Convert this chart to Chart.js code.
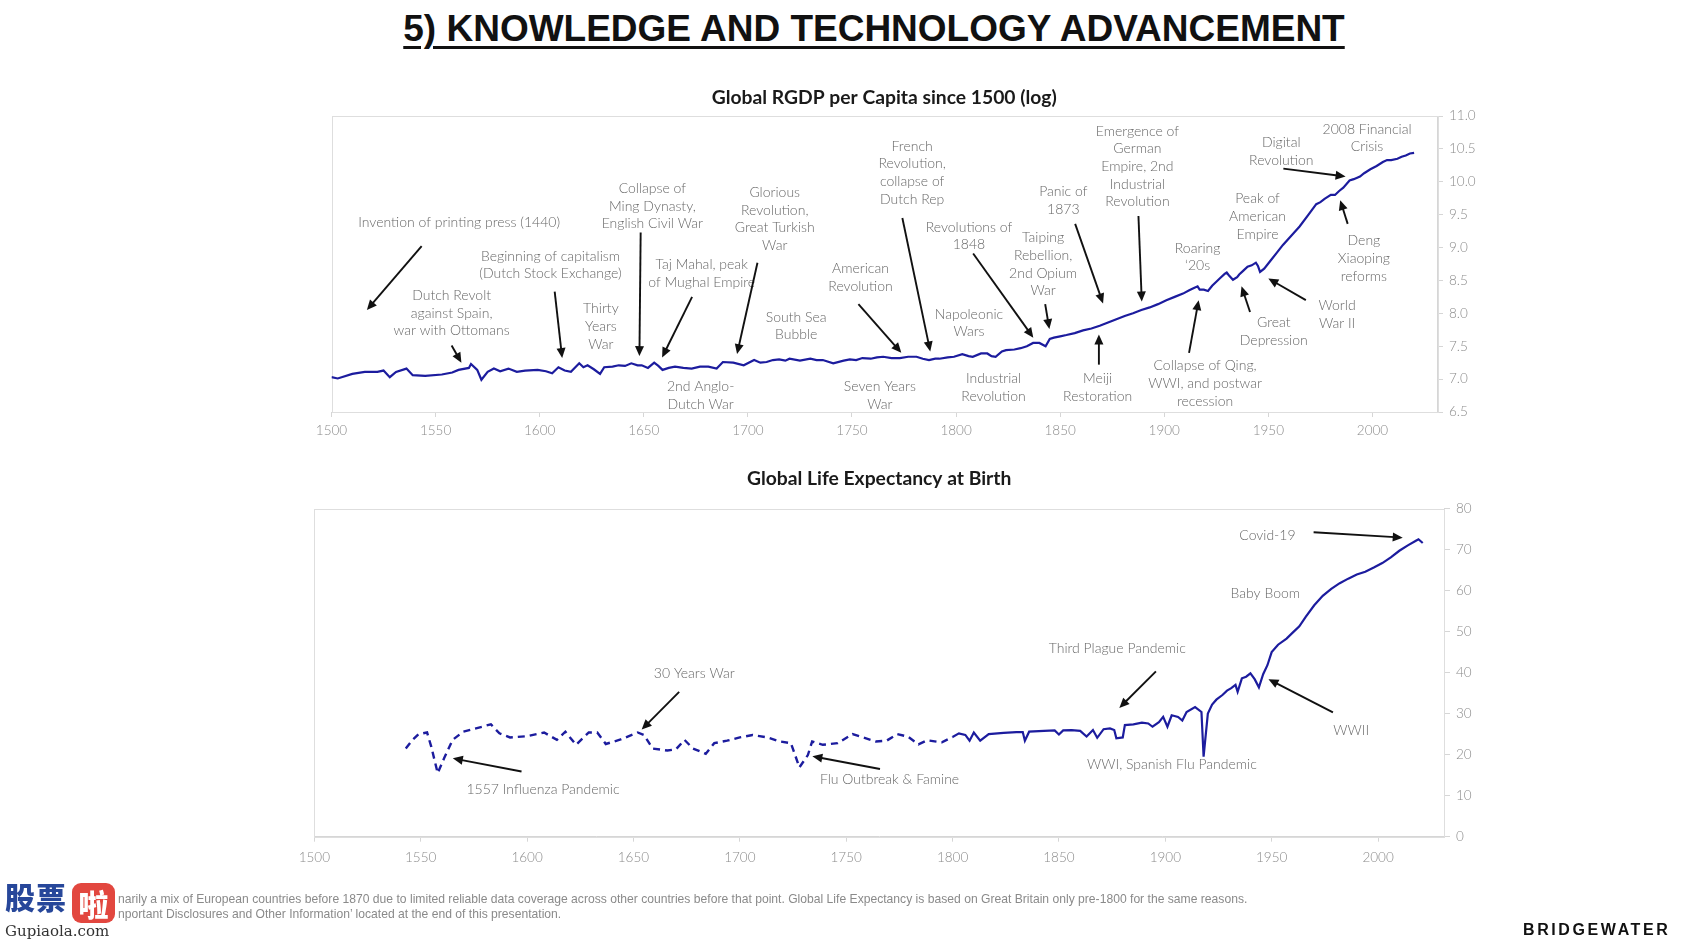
<!DOCTYPE html>
<html><head><meta charset="utf-8">
<script src="https://cdn.jsdelivr.net/npm/chart.js@4.4.1/dist/chart.umd.min.js"></script>
<style>
html,body{margin:0;padding:0;background:#fff;width:1682px;height:942px;overflow:hidden;position:relative;font-family:Lato,"Open Sans",sans-serif;}
#mainTitle{position:absolute;left:0;top:8px;width:1748px;text-align:center;font-family:"Liberation Sans",Arial,sans-serif;font-weight:bold;font-size:37px;color:#111;text-decoration:underline;text-decoration-thickness:3px;text-underline-offset:5px;white-space:nowrap;}
canvas{position:absolute;left:0;}
#c1{top:0;}
#c2{top:450px;}
.foot{position:absolute;left:118px;font-family:"Liberation Sans Narrow","Arial Narrow","Liberation Sans",sans-serif;font-size:13px;color:#8a8a8a;white-space:nowrap;transform:scaleX(0.933);transform-origin:0 0;}
#wm1{position:absolute;left:5px;top:881px;font-family:"Noto Sans CJK SC",sans-serif;font-weight:900;font-size:30px;color:#27479a;letter-spacing:1px;line-height:1;}
#wm2{position:absolute;left:72px;top:883px;width:43px;height:40px;border-radius:9px;background:#e2473f;color:#fff;font-family:"Noto Sans CJK SC",sans-serif;font-weight:900;font-size:30px;line-height:40px;text-align:center;}
#wm3{position:absolute;left:5px;top:922px;font-family:"DejaVu Serif","Liberation Serif",serif;font-size:15px;color:#333;}
#bw{position:absolute;left:1523px;top:921px;font-family:"Liberation Sans",Arial,sans-serif;font-weight:bold;font-size:16px;letter-spacing:2.6px;color:#111;}
</style></head>
<body>
<div id="mainTitle">5) KNOWLEDGE AND TECHNOLOGY ADVANCEMENT</div>
<canvas id="c1" width="1682" height="450"></canvas>
<canvas id="c2" width="1682" height="492"></canvas>
<div class="foot" style="top:891px">narily a mix of European countries before 1870 due to limited reliable data coverage across other countries before that point. Global Life Expectancy is based on Great Britain only pre-1800 for the same reasons.</div>
<div class="foot" style="top:906px">nportant Disclosures and Other Information’ located at the end of this presentation.</div>
<div id="wm1">股票</div>
<div id="wm2">啦</div>
<div id="wm3">Gupiaola.com</div>
<div id="bw">BRIDGEWATER</div>
<script>
// ---------- DATA ----------
const gdpYears = [1500,1503,1510,1516,1522,1525,1528,1531,1536,1539,
1545,1553,1558,1561,1566,1567,1570,1572,1575,1578,
1581,1585,1589,1593,1599,1603,1606,1609,1612,1615,
1619,1621,1623,1626,1629,1631,1635,1638,1641,1644,
1647,1649,1652,1655,1657,1659,1662,1665,1669,1673,
1677,1681,1685,1688,1693,1698,1703,1706,1709,1712,
1715,1718,1720,1725,1730,1733,1736,1741,1746,1749,
1752,1755,1759,1762,1765,1769,1773,1777,1781,1784,
1787,1790,1792,1796,1799,1803,1806,1808,1812,1815,
1817,1819,1822,1824,1828,1831,1834,1837,1840,1843,
1845,1847,1850,1853,1857,1861,1865,1869,1873,1877,
1881,1885,1889,1893,1897,1901,1905,1909,1912,1914,
1916,1917,1919,1921,1923,1925,1927,1929,1930,1931,
1933,1935,1936,1938,1940,1942,1944,1945,1946,1948,
1951,1954,1957,1961,1965,1969,1973,1975,1977,1980,
1982,1984,1986,1989,1991,1994,1996,1999,2002,2005,
2007,2009,2012,2014,2016,2018,2020];
const gdpLog = [7.03,7.01,7.08,7.11,7.11,7.13,7.03,7.11,7.16,7.06,
7.05,7.07,7.10,7.14,7.17,7.23,7.14,6.99,7.11,7.16,
7.12,7.16,7.11,7.13,7.14,7.12,7.09,7.18,7.13,7.11,
7.24,7.18,7.21,7.15,7.08,7.18,7.19,7.21,7.20,7.24,
7.21,7.21,7.17,7.25,7.20,7.14,7.17,7.19,7.17,7.16,
7.19,7.19,7.16,7.26,7.25,7.21,7.29,7.25,7.26,7.29,
7.30,7.28,7.31,7.28,7.31,7.29,7.29,7.24,7.28,7.30,
7.29,7.32,7.31,7.33,7.34,7.32,7.32,7.34,7.34,7.31,
7.29,7.31,7.31,7.33,7.34,7.38,7.35,7.34,7.39,7.39,
7.35,7.34,7.42,7.44,7.45,7.47,7.50,7.55,7.55,7.50,
7.61,7.63,7.65,7.67,7.70,7.74,7.77,7.81,7.86,7.91,
7.96,8.00,8.05,8.09,8.14,8.20,8.25,8.30,8.35,8.38,
8.41,8.36,8.36,8.34,8.42,8.48,8.54,8.60,8.62,8.58,
8.51,8.55,8.59,8.65,8.71,8.73,8.77,8.72,8.63,8.68,
8.80,8.92,9.04,9.18,9.32,9.49,9.66,9.69,9.74,9.80,
9.80,9.86,9.91,10.02,10.04,10.08,10.13,10.19,10.24,10.30,
10.33,10.33,10.35,10.38,10.40,10.43,10.44];

// Life expectancy, Great Britain only (dashed) pre-1800
const leEarlyYears = [1543,1546,1549,1553,1555,1558,1561,1565,1570,1576,1583,1587,1592,1600,
1608,1614,1618,1623,1629,1633,1637,1644,1652,1655,1659,1666,1670,1674,
1678,1684,1688,1694,1700,1706,1713,1719,1724,1726,1728,1732,1734,1739,
1746,1753,1758,1764,1769,1774,1779,1784,1788,1795,1800];
const leEarlyVals = [21.5,23.5,25.0,25.4,21.9,15.5,19.1,23.6,25.6,26.4,27.4,25.2,24.2,24.5,
25.4,23.6,25.6,22.4,25.4,25.4,22.6,23.7,25.4,24.8,21.5,21.0,21.3,23.6,
21.5,20.2,22.8,23.4,24.2,24.8,24.2,23.2,22.8,19.9,16.9,19.9,23.2,22.4,
22.8,25.0,24.2,23.2,23.4,25.0,24.4,22.5,23.5,23.0,24.3];
// Global life expectancy (solid) from 1800
const leYears = [1800,1803,1806,1808,1810,1813,1817,1824,1830,1833,
1834,1836,1843,1848,1850,1852,1856,1860,1863,1866,
1868,1871,1874,1876,1877,1880,1881,1885,1889,1892,
1894,1897,1899,1901,1903,1906,1908,1910,1914,1917,
1918,1920,1922,1924,1927,1929,1931,1933,1934,1936,
1938,1940,1942,1944,1946,1948,1950,1953,1957,1960,
1963,1966,1970,1974,1978,1982,1986,1990,1994,1998,
2002,2006,2010,2014,2018,2019,2021];
const leVals = [24.3,25.2,24.8,23.4,25.4,23.4,25.0,25.3,25.5,25.5,
23.4,25.6,25.8,25.9,24.9,25.9,26.0,25.8,24.4,26.0,
24.1,26.2,26.4,26.0,24.0,24.2,27.2,27.4,27.8,27.6,
26.8,27.9,29.2,26.8,29.6,29.2,28.3,30.4,31.6,30.4,
19.5,30.0,32.2,33.4,34.6,35.6,36.2,37.0,35.3,38.6,
39.0,39.8,38.4,36.4,39.6,41.8,45.0,46.8,48.3,49.8,
51.3,53.6,56.4,58.7,60.4,61.8,62.9,63.9,64.6,65.6,
66.7,68.1,69.7,71.0,72.2,72.5,71.6];

const xTickYears = [1500,1550,1600,1650,1700,1750,1800,1850,1900,1950,2000];
const gdpTicks = [6.5,7.0,7.5,8.0,8.5,9.0,9.5,10.0,10.5,11.0];
const leTicks = [0,10,20,30,40,50,60,70,80];

// annotations (text anchor and arrows in data units)
const gdpNotes = [
 {t:["Invention of printing press (1440)"], x:1561.3, y:9.38, a:[1543.3,9.02,1517.0,8.05]},
 {t:["Beginning of capitalism","(Dutch Stock Exchange)"], x:1605.2, y:8.87, a:[1607.2,8.33,1610.8,7.32]},
 {t:["Dutch Revolt","against Spain,","war with Ottomans"], x:1557.7, y:8.27, a:[1557.7,7.51,1562.4,7.25]},
 {t:["Thirty","Years","War"], x:1629.4, y:8.07},
 {t:["Collapse of","Ming Dynasty,","English Civil War"], x:1654.1, y:9.90, a:[1648.5,9.23,1647.9,7.35]},
 {t:["Taj Mahal, peak","of Mughal Empire"], x:1677.8, y:8.74, a:[1673.2,8.25,1658.8,7.33]},
 {t:["2nd Anglo-","Dutch War"], x:1677.3, y:6.89},
 {t:["Glorious","Revolution,","Great Turkish","War"], x:1712.9, y:9.84, a:[1704.6,8.77,1694.8,7.38]},
 {t:["South Sea","Bubble"], x:1723.2, y:7.94},
 {t:["American","Revolution"], x:1754.1, y:8.68, a:[1753.1,8.14,1773.7,7.40]},
 {t:["Seven Years","War"], x:1763.4, y:6.89},
 {t:["French","Revolution,","collapse of","Dutch Rep"], x:1778.9, y:10.54, a:[1774.2,9.45,1787.6,7.42]},
 {t:["Napoleonic","Wars"], x:1806.2, y:7.99},
 {t:["Industrial","Revolution"], x:1818.0, y:7.01},
 {t:["Revolutions of","1848"], x:1806.2, y:9.31, a:[1808.2,8.91,1837.1,7.63]},
 {t:["Taiping","Rebellion,","2nd Opium","War"], x:1841.8, y:9.15, a:[1842.8,8.14,1844.8,7.76]},
 {t:["Panic of","1873"], x:1851.5, y:9.85, a:[1857.2,9.36,1870.6,8.15]},
 {t:["Meiji","Restoration"], x:1868.0, y:7.01, a:[1868.6,7.22,1868.6,7.68]},
 {t:["Emergence of","German","Empire, 2nd","Industrial","Revolution"], x:1887.1, y:10.77, a:[1887.6,9.48,1889.2,8.18]},
 {t:["Roaring","‘20s"], x:1916.0, y:8.99},
 {t:["Collapse of Qing,","WWI, and postwar","recession"], x:1919.6, y:7.20, a:[1911.9,7.40,1916.5,8.20]},
 {t:["Peak of","American","Empire"], x:1944.8, y:9.74},
 {t:["Great","Depression"], x:1952.6, y:7.86, a:[1941.2,8.02,1937.1,8.41]},
 {t:["World","War II"], x:1983.0, y:8.12, a:[1968.0,8.20,1950.0,8.53]},
 {t:["Digital","Revolution"], x:1956.2, y:10.59, a:[1957.2,10.20,1987.1,10.08]},
 {t:["2008 Financial","Crisis"], x:1997.4, y:10.80},
 {t:["Deng","Xiaoping","reforms"], x:1995.9, y:9.10, a:[1988.1,9.36,1984.5,9.72]}
];
const leNotes = [
 {t:["30 Years War"], x:1678.6, y:39.7, a:[1671.5,35.3,1653.9,26.1]},
 {t:["1557 Influenza Pandemic"], x:1607.5, y:11.5, a:[1597.4,15.9,1565.1,19.1]},
 {t:["Flu Outbreak & Famine"], x:1770.4, y:13.9, a:[1765.9,16.5,1734.1,19.6]},
 {t:["Third Plague Pandemic"], x:1877.4, y:46.0, a:[1895.6,40.3,1878.4,31.4]},
 {t:["WWI, Spanish Flu Pandemic"], x:1903.1, y:17.5},
 {t:["WWII"], x:1987.4, y:25.9, a:[1978.8,30.3,1948.5,38.4]},
 {t:["Baby Boom"], x:1947.0, y:59.3},
 {t:["Covid-19"], x:1948.0, y:73.5, a:[1969.7,74.2,2011.6,72.9]}
];

// ---------- RENDERING ----------
Chart.defaults.font.family = 'Lato, "Open Sans", sans-serif';
const LINE = '#1c1c9e';
const pts = (xs, ys) => xs.map((x,i)=>({x:x, y:ys[i]}));

function drawArrow(c,x1,y1,x2,y2){
  const ang=Math.atan2(y2-y1,x2-x1), L=10, W=4.5;
  c.beginPath(); c.moveTo(x1,y1);
  c.lineTo(x2-(L-2)*Math.cos(ang), y2-(L-2)*Math.sin(ang)); c.stroke();
  c.beginPath(); c.moveTo(x2,y2);
  c.lineTo(x2-L*Math.cos(ang)+W*Math.sin(ang), y2-L*Math.sin(ang)-W*Math.cos(ang));
  c.lineTo(x2-L*Math.cos(ang)-W*Math.sin(ang), y2-L*Math.sin(ang)+W*Math.cos(ang));
  c.closePath(); c.fill();
}

const deco = {
  id:'deco',
  beforeDatasetsDraw(chart, args, o){
    const a=chart.chartArea, c=chart.ctx;
    c.save(); c.strokeStyle='#dedede'; c.lineWidth=1;
    c.strokeRect(Math.round(a.left)+0.5, Math.round(a.top)+0.5, Math.round(a.right-a.left), Math.round(a.bottom-a.top));
    c.restore();
  },
  afterDraw(chart, args, o){
    const a=chart.chartArea, c=chart.ctx, xs=chart.scales.x, ys=chart.scales.y;
    c.save();
    c.fillStyle='#1a1a1a'; c.font='bold 19.3px Lato, sans-serif';
    c.textAlign='center'; c.textBaseline='middle';
    c.fillText(o.title, (a.left+a.right)/2, a.top-o.titleOffset);
    c.font=o.noteFont; c.fillStyle='#686868';
    o.notes.forEach(n=>{
      const px=xs.getPixelForValue(n.x), py=ys.getPixelForValue(n.y);
      n.t.forEach((s,i)=>c.fillText(s, px, py+i*o.lineH));
    });
    c.strokeStyle='#111'; c.fillStyle='#111'; c.lineWidth=1.9;
    o.notes.forEach(n=>{
      if(!n.a) return;
      drawArrow(c, xs.getPixelForValue(n.a[0]), ys.getPixelForValue(n.a[1]),
                   xs.getPixelForValue(n.a[2]), ys.getPixelForValue(n.a[3]));
    });
    c.restore();
  }
};

function xScale(pad){
  return {type:'linear', min:1500, max:2031,
    afterFit:s=>{s.height=30;},
    afterBuildTicks:s=>{s.ticks = xTickYears.map(v=>({value:v}));},
    ticks:{color:'#8c8c8c', font:{size:13.5, weight:300}, padding:pad, maxRotation:0, autoSkip:false, callback:v=>String(v)},
    grid:{drawOnChartArea:false, drawTicks:true, tickLength:5, color:'#d6d6d6'},
    border:{color:'#d6d6d6'}};
}
function yScale(min,max,ticks,fmt){
  return {position:'right', min:min, max:max,
    afterFit:s=>{s.width=60;},
    afterBuildTicks:s=>{s.ticks = ticks.map(v=>({value:v}));},
    ticks:{color:'#8c8c8c', font:{size:13.5, weight:300}, padding:6, autoSkip:false, callback:fmt},
    grid:{drawOnChartArea:false, drawTicks:true, tickLength:6, color:'#d6d6d6'},
    border:{color:'#d6d6d6'}};
}

new Chart(document.getElementById('c1'), {
  type:'line',
  data:{datasets:[{data:pts(gdpYears,gdpLog), borderColor:LINE, borderWidth:2.2, pointRadius:0, tension:0}]},
  options:{responsive:false, animation:false, devicePixelRatio:1,
    layout:{padding:{left:331.5, top:116, right:185, bottom:8}},
    plugins:{legend:{display:false}, tooltip:{enabled:false},
      deco:{title:'Global RGDP per Capita since 1500 (log)', titleOffset:18, notes:gdpNotes, lineH:17.7, noteFont:'300 14px Lato, sans-serif'}},
    scales:{x:xScale(6), y:yScale(6.5,11,gdpTicks,v=>v.toFixed(1))}},
  plugins:[deco]
});

new Chart(document.getElementById('c2'), {
  type:'line',
  data:{datasets:[
    {data:pts(leEarlyYears,leEarlyVals), borderColor:LINE, borderWidth:2.4, borderDash:[7,5], pointRadius:0, tension:0},
    {data:pts(leYears,leVals), borderColor:LINE, borderWidth:2.2, pointRadius:0, tension:0}
  ]},
  options:{responsive:false, animation:false, devicePixelRatio:1,
    layout:{padding:{left:314.3, top:58.5, right:178, bottom:75.3}},
    plugins:{legend:{display:false}, tooltip:{enabled:false},
      deco:{title:'Global Life Expectancy at Birth', titleOffset:29.5, notes:leNotes, lineH:17.7, noteFont:'300 14px Lato, sans-serif'}},
    scales:{x:xScale(7.5), y:yScale(0,80,leTicks,v=>String(v))}},
  plugins:[deco]
});
</script>
</body></html>
